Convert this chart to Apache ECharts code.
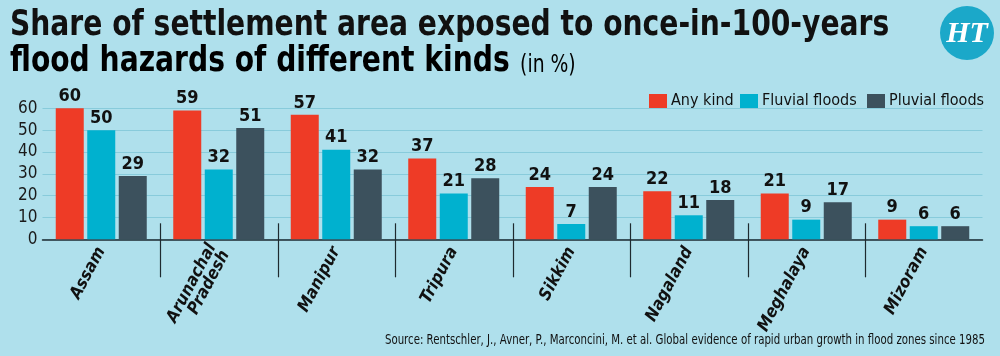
<!DOCTYPE html>
<html>
<head>
<meta charset="utf-8">
<script src="https://cdn.jsdelivr.net/npm/echarts@6/dist/echarts.min.js"></script>
<style>
html,body{margin:0;padding:0;background:#afe0ec;}
#c{width:1000px;height:356px;}
</style>
</head>
<body>
<div id="c"></div>
<script>
const categories = ['Assam', 'Arunachal\nPradesh', 'Manipur', 'Tripura', 'Sikkim', 'Nagaland', 'Meghalaya', 'Mizoram'];
const anyKind = [60, 59, 57, 37, 24, 22, 21, 9];
const fluvial = [50, 32, 41, 21, 7, 11, 9, 6];
const pluvial = [29, 51, 32, 28, 24, 18, 17, 6];
const yTicks = [0, 10, 20, 30, 40, 50, 60];
const separators = [1, 2, 3, 4, 5, 6, 7];
const legendNames = ['Any kind', 'Fluvial floods', 'Pluvial floods'];
const legendLeft = [644, 735, 862];

const COND = '"DejaVu Sans Condensed", "Liberation Sans Narrow", "Roboto", sans-serif';
const chart = echarts.init(document.getElementById('c'));

function valueLabel() {
  return { show: true, position: 'top', distance: 3, color: '#111', fontFamily: COND, fontWeight: 'bold', fontSize: 18 };
}

const option = {
  backgroundColor: '#afe0ec',
  animation: false,
  graphic: [
    { type: 'text', x: 10, y: 8, scaleX: 0.87, style: { text: 'Share of settlement area exposed to once-in-100-years', fontFamily: COND, fontWeight: 'bold', fontSize: 36, fill: '#111' } },
    { type: 'text', x: 10, y: 44, scaleX: 0.87, style: {
      text: '{a|flood hazards of different kinds}{b|(in %)}',
      rich: {
        a: { fontFamily: COND, fontWeight: 'bold', fontSize: 36, color: '#111' },
        b: { fontFamily: COND, fontSize: 24, color: '#111', padding: [8, 0, 0, 12] }
      } } },
    { type: 'circle', shape: { cx: 967, cy: 33, r: 27 }, style: { fill: '#1ba8c9' } },
    { type: 'text', x: 967, y: 34, style: { text: 'HT', fontFamily: '"Liberation Serif", serif', fontWeight: 'bold', fontStyle: 'italic', fontSize: 30, fill: '#fff', align: 'center', verticalAlign: 'middle' } },
    { type: 'text', x: 985, y: 340, scaleX: 0.81, style: { text: 'Source: Rentschler, J., Avner, P., Marconcini, M. et al. Global evidence of rapid urban growth in flood zones since 1985', fontFamily: COND, fontSize: 14, fill: '#111', align: 'right', verticalAlign: 'middle' } }
  ],
  legend: legendNames.map((n, i) => ({
    top: 88, left: legendLeft[i], itemWidth: 18, itemHeight: 14, icon: 'rect',
    textStyle: { fontFamily: COND, fontSize: 16, color: '#111', padding: [0, 0, 0, -1] },
    data: [n]
  })),
  grid: { left: 42.5, right: 17.5, top: 108.3, bottom: 116.7, containLabel: false },
  xAxis: [{
    type: 'category', data: categories,
    axisLine: { lineStyle: { color: '#1e2a30', width: 1.5 } },
    axisTick: { show: false },
    axisLabel: { rotate: 62, margin: 9, fontFamily: COND, fontWeight: 'bold', fontStyle: 'italic', fontSize: 17, color: '#111', lineHeight: 15, interval: 0 }
  }],
  yAxis: {
    type: 'value', min: 0, max: 60, interval: 10,
    axisLine: { show: false }, axisTick: { show: false },
    axisLabel: { fontFamily: COND, fontSize: 17, color: '#1a1a1a', margin: 5,
      formatter: v => yTicks.includes(v) ? String(v) : '' },
    splitLine: { lineStyle: { color: '#88cbdb', width: 1.2 } }
  },
  series: [
    { name: 'Any kind', type: 'bar', data: anyKind, barWidth: 28, barGap: '12.5%', itemStyle: { color: '#ee3b26' }, label: valueLabel() },
    { name: 'Fluvial floods', type: 'bar', data: fluvial, barWidth: 28, barGap: '12.5%', itemStyle: { color: '#00b1cf' }, label: valueLabel() },
    { name: 'Pluvial floods', type: 'bar', data: pluvial, barWidth: 28, barGap: '12.5%', itemStyle: { color: '#3c515d' }, label: valueLabel() },
    {
      type: 'custom', silent: true, clip: false, z: 5,
      data: separators.map(i => [i, 0]),
      renderItem: function (params, api) {
        const p = api.coord([api.value(0), 0]);
        const band = api.size([1, 0])[0];
        const x = Math.round(p[0] - band / 2) + 0.5;
        return { type: 'line', shape: { x1: x, y1: p[1] - 16, x2: x, y2: p[1] + 38 }, style: { stroke: '#1e2a30', lineWidth: 1.2 } };
      }
    }
  ]
};
chart.setOption(option);
</script>
</body>
</html>
